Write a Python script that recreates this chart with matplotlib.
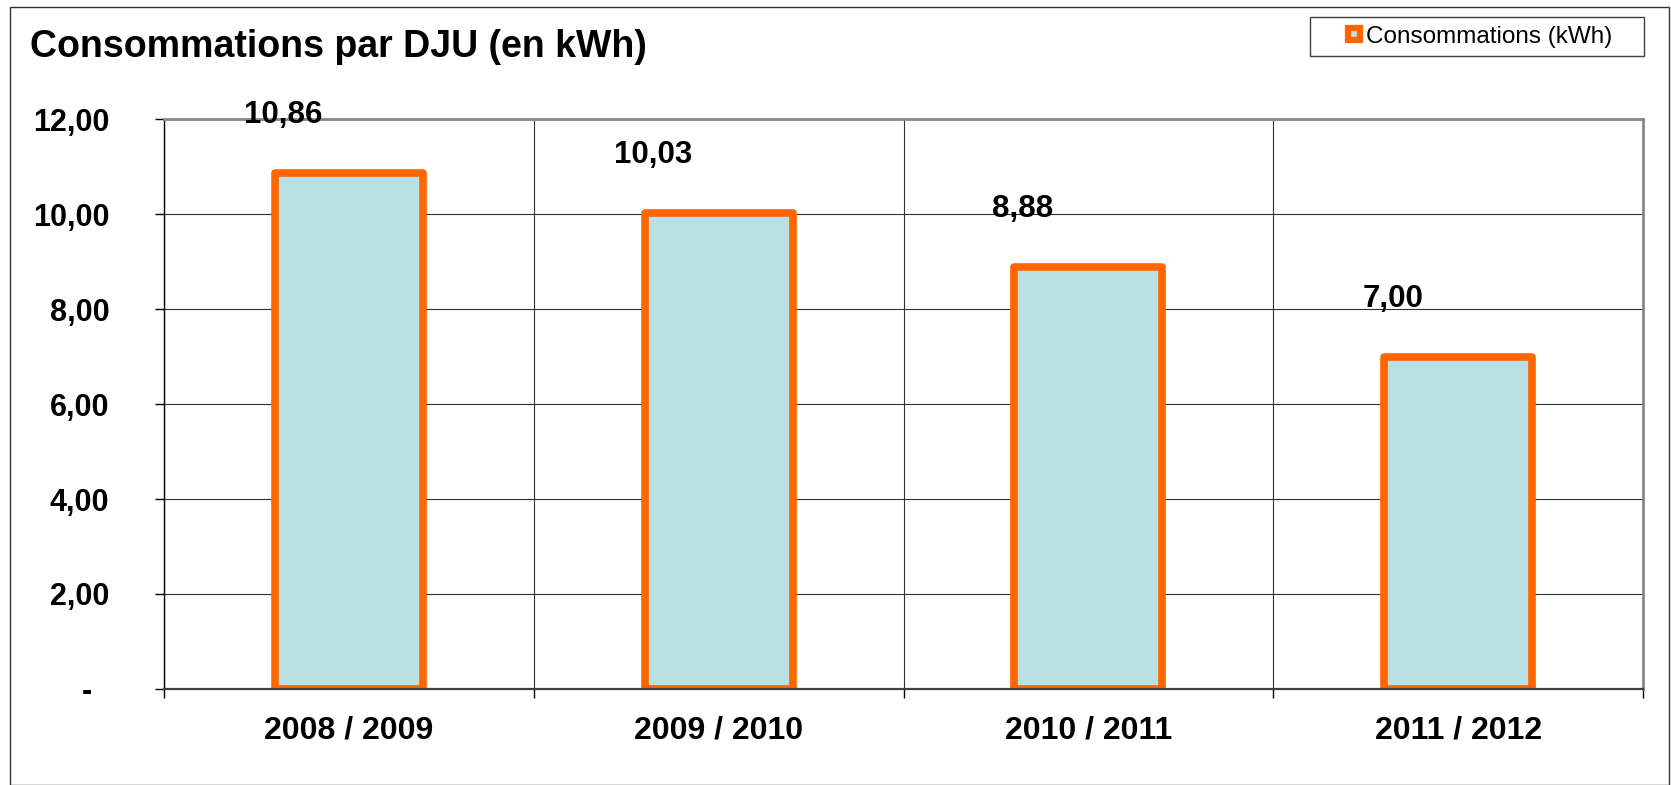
import matplotlib
matplotlib.use("Agg")
import matplotlib.pyplot as plt
from matplotlib.lines import Line2D
from matplotlib.patches import Rectangle
import numpy as np

plt.rcParams['font.family'] = ['Liberation Sans', 'DejaVu Sans']

# data
seasons = ["2008 / 2009", "2009 / 2010", "2010 / 2011", "2011 / 2012"]
conso = [10.86, 10.03, 8.88, 7.00]
yticks = [0, 2, 4, 6, 8, 10, 12]
ytick_labels = ["-  ", "2,00", "4,00", "6,00", "8,00", "10,00", "12,00"]

orange = "#FF6600"
fill = "#BAE0E3"

fig = plt.figure(figsize=(16.71, 7.85), dpi=100)
ax = fig.add_axes([164 / 1671, 1 - 689 / 785, (1643 - 164) / 1671, (689 - 119) / 785])

x = np.arange(len(seasons))
ax.bar(x, conso, width=0.4, color=fill, edgecolor=orange, linewidth=5.5,
       joinstyle='round', zorder=2)

for i, v in enumerate(conso):
    ax.annotate(f"{v:.2f}".replace('.', ','), (i, v), xytext=(-47, 36),
                textcoords='offset points', ha='center', va='baseline',
                fontsize=22.5, fontweight='bold')

ax.set_xlim(-0.5, len(seasons) - 0.5)
ax.set_ylim(0, 12)

ax.set_yticks(yticks)
ax.set_yticklabels(ytick_labels, fontsize=22, fontweight='bold')
ax.tick_params(axis='y', length=6.5, width=1, pad=33, color='black')

ax.set_xticks(x)
ax.set_xticklabels(seasons, fontsize=23, fontweight='bold')
ax.set_xticks(np.arange(len(seasons) + 1) - 0.5, minor=True)
ax.tick_params(axis='x', which='major', length=0, pad=19)
ax.tick_params(axis='x', which='minor', length=6.5, width=1, color='black')

ax.grid(axis='y', which='major', color='#333333', linewidth=0.8, zorder=0)
ax.grid(axis='x', which='minor', color='#333333', linewidth=0.8, zorder=0)
ax.set_axisbelow(True)

ax.spines['left'].set_color('black')
ax.spines['left'].set_linewidth(1)
ax.spines['bottom'].set_color('#404040')
ax.spines['bottom'].set_linewidth(1.6)
ax.spines['bottom'].set_zorder(3)
for s in ['top', 'right']:
    ax.spines[s].set_color('#888888')
    ax.spines[s].set_linewidth(2)

fig.text(30 / 1671, 1 - 57 / 785, "Consommations par DJU (en kWh)",
         fontsize=27, fontweight='bold', va='baseline', ha='left')

# legend: frameless legend plus a drawn box with wide side padding
handle = Line2D([], [], linestyle='none', marker='s', markersize=9,
                markerfacecolor=fill, markeredgecolor=orange, markeredgewidth=4.5)
fig.legend([handle], ["Consommations (kWh)"], loc='center left',
           bbox_to_anchor=(1342 / 1671, 1 - 36.5 / 785), fontsize=17.5,
           frameon=False, borderpad=0, handlelength=1.0, handletextpad=0,
           borderaxespad=0)
fig.patches.append(Rectangle((1310 / 1671, 1 - 56 / 785), 334 / 1671, 39 / 785,
                             transform=fig.transFigure, fill=False,
                             edgecolor='#404040', linewidth=1))

fig.patches.append(Rectangle((10 / 1671, 0.5 / 785), 1659 / 1671, (785 - 7.5) / 785,
                             transform=fig.transFigure, fill=False,
                             edgecolor='#333333', linewidth=1))

fig.savefig("out.png", dpi=100)
